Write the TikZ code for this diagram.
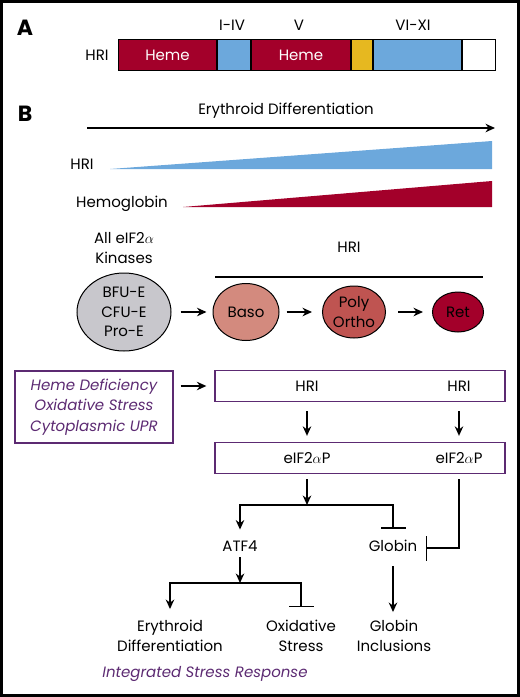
\documentclass[tikz,border=0pt]{standalone}
\usepackage{fontspec}
\setmainfont{Poppins}
\usetikzlibrary{arrows.meta,shapes.geometric}
\definecolor{hemered}{HTML}{A3002A}
\definecolor{domblue}{HTML}{6CA8DC}
\definecolor{domyellow}{HTML}{E6B820}
\definecolor{cellgray}{HTML}{C8C7CC}
\definecolor{basocol}{HTML}{D38A7E}
\definecolor{polycol}{HTML}{BF5451}
\definecolor{isrpurple}{HTML}{5C2A72}
\begin{document}
\begin{tikzpicture}
	[x=1pt, y=-1pt, font=\fontsize{15}{20}\selectfont, align=center,
	dom/.style ={rectangle, draw=black, line width=1pt, inner sep=0pt, minimum height=31pt, anchor=west},
	cell/.style ={ellipse, draw=black, line width=1pt, inner sep=0pt, font=\fontsize{15}{19.5}\selectfont},
	pbox/.style ={rectangle, draw=isrpurple, line width=1.3pt, inner sep=0pt},
	lbl/.style ={inner sep=0pt, text height=10.5pt, text depth=0pt},
	mlbl/.style ={inner sep=0pt},
	panel/.style ={inner sep=0pt, font=\fontsize{22}{22}\selectfont\bfseries},
	arr/.style ={line width=1.4pt, -{Stealth[length=9.5pt,width=8.5pt]}},
	inh/.style ={line width=1.4pt, -{Bar[width=25pt,line width=1.4pt]}}];
	\useasboundingbox (0,0) rectangle (520,697);
	\draw[line width=3pt] (1.5,1.5) rectangle (518.5,695.5);
	% panel A
	\node[panel] (pa) at (25,28) {A};
	\node[lbl] (hrilbl) at (97,55) {HRI};
	\node[dom, fill=hemered, text=white, minimum width=98pt] (heme1) at (118,55) {Heme};
	\node[dom, fill=domblue, minimum width=33pt] (d1) at (heme1.east) {};
	\node[dom, fill=hemered, text=white, minimum width=99pt] (heme2) at (d1.east) {Heme};
	\node[dom, fill=domyellow, minimum width=21pt] (d2) at (heme2.east) {};
	\node[dom, fill=domblue, minimum width=88pt] (d3) at (d2.east) {};
	\node[dom, fill=white, minimum width=33pt] (d4) at (d3.east) {};
	\node[lbl] (liv) at (232,25) {I-IV};
	\node[lbl] (lv) at (299,25) {V};
	\node[lbl] (lvixi) at (413,25) {VI-XI};
	% panel B
	\node[panel] (pb) at (25,114) {B};
	\node[lbl] (ery) at (286,109) {Erythroid Differentiation};
	\coordinate (erys) at (87,128);
	\coordinate (erye) at (495,128);
	\draw[arr] (erys) -- (erye);
	\node[lbl] (hriw) at (82,164) {HRI};
	\fill[domblue] (110,169) -- (492,169) -- (492,141) -- cycle;
	\node[lbl] (hbw) at (122,202) {Hemoglobin};
	\fill[hemered] (183,207) -- (492,207) -- (492,181) -- cycle;
	\node[mlbl] (allk) at (124,248) {All eIF2$\alpha$\\Kinases};
	\node[lbl] (hrilate) at (349,247) {HRI};
	\draw[line width=1.3pt] (215,277) -- (483,277);
	\node[cell, fill=cellgray, minimum width=94pt, minimum height=78pt] (prog) at (124,312) {BFU-E\\CFU-E\\Pro-E};
	\node[cell, fill=basocol, minimum width=66pt, minimum height=57pt] (baso) at (246,312) {Baso};
	\node[cell, fill=polycol, minimum width=63pt, minimum height=52pt] (poly) at (354,312) {Poly\\Ortho};
	\node[cell, fill=hemered, minimum width=51pt, minimum height=40pt] (ret) at (458,312) {Ret};
	\draw[arr, shorten <=9pt, shorten >=6pt] (prog) -- (baso);
	\draw[arr, shorten <=7pt, shorten >=10pt] (baso) -- (poly);
	\draw[arr, shorten <=12pt, shorten >=9pt] (poly) -- (ret);
	% stress to HRI
	\node[pbox, minimum width=158pt, minimum height=72pt, text=isrpurple, font=\fontsize{15}{20.5}\selectfont\itshape] (stress) at (94,407) {Heme Deficiency\\Oxidative Stress\\Cytoplasmic UPR};
	\node[pbox, minimum width=290pt, minimum height=31pt] (hribox) at (360,386) {};
	\node[lbl] (hriA) at (307,386) {HRI};
	\node[lbl] (hriB) at (459,386) {HRI};
	\node[pbox, minimum width=290pt, minimum height=31pt] (eifbox) at (360,458) {};
	\node[lbl] (eifA) at (307,458) {eIF2$\alpha$P};
	\node[lbl] (eifB) at (459,458) {eIF2$\alpha$P};
	\draw[arr, shorten <=7pt, shorten >=8pt] (stress.east |- hribox) -- (hribox.west);
	\draw[arr, shorten <=9pt, shorten >=6pt] (hribox.south -| hriA) -- (eifbox.north -| hriA);
	\draw[arr, shorten <=9pt, shorten >=6pt] (hribox.south -| hriB) -- (eifbox.north -| hriB);
	% downstream
	\coordinate (split1) at (307,505);
	\node[lbl] (atf4) at (240,546) {ATF4};
	\node[lbl] (globin) at (393,546) {Globin};
	\coordinate (gbar) at (426,548);
	\draw[arr, shorten <=5pt] (eifbox.south -| eifA) -- (split1);
	\draw[arr, shorten >=11pt] (split1) -| (atf4.north);
	\draw[inh, shorten >=12pt] (split1) -| (globin.north);
	\draw[inh, shorten <=5pt] (eifbox.south -| eifB) |- (gbar);
	\coordinate (split2) at (240,583);
	\node[mlbl] (erydiff) at (170,636) {Erythroid\\Differentiation};
	\node[mlbl] (oxst) at (301,636) {Oxidative\\Stress};
	\node[mlbl] (glincl) at (394,636) {Globin\\Inclusions};
	\draw[arr, shorten <=6pt] (atf4.south) -- (split2);
	\draw[arr, shorten >=11pt] (split2) -| (erydiff.north);
	\draw[inh, shorten >=13pt] (split2) -| (oxst.north);
	\draw[arr, shorten <=15pt, shorten >=8pt] (globin.south) -- (globin.south |- glincl.north);
	\node[lbl, text=isrpurple, font=\fontsize{15}{20}\selectfont\itshape] (isr) at (205,672) {Integrated Stress Response};
\end{tikzpicture}
\end{document}
